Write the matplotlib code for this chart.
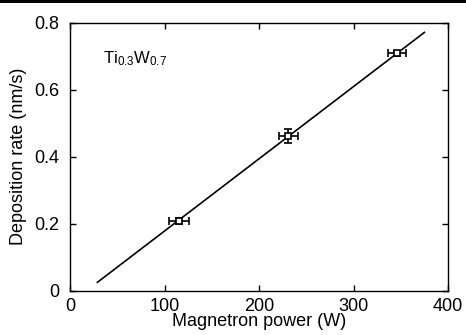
import numpy as np
import matplotlib
matplotlib.use("Agg")
import matplotlib.pyplot as plt
from matplotlib.patches import Rectangle
from matplotlib import rcParams

rcParams.update({
    "font.family": ["Liberation Sans", "DejaVu Sans"],
    "mathtext.fontset": "custom",
    "mathtext.rm": "Liberation Sans",
    "mathtext.it": "Liberation Sans",
    "font.size": 13,
    "axes.linewidth": 1.0,
})

# measured points
power = [115, 231, 346]
rate = [0.208, 0.462, 0.709]
power_err = [10.5, 10, 10]
rate_err = [0.008, 0.022, 0.008]

# linear fit end points
fit_power = [29, 375]
fit_rate = [0.025, 0.771]

fig = plt.figure(figsize=(4.66, 3.35), dpi=100)
ax = fig.add_axes([70 / 466, 1 - 290.7 / 335, 378 / 466, 268 / 335])

ax.plot(fit_power, fit_rate, color="black", lw=1.2, zorder=2)
ax.errorbar(power, rate, xerr=power_err, yerr=rate_err, fmt="s", ms=5,
            mfc="white", mec="black", mew=1.2, ecolor="black", elinewidth=1.2,
            capsize=3, capthick=1.2, zorder=3)

ax.set_xlim(0, 400)
ax.set_ylim(0, 0.8)
ax.set_xticks([0, 100, 200, 300, 400])
ax.set_xticklabels(["0", "100", "200", "300", "400"])
ax.set_yticks([0, 0.2, 0.4, 0.6, 0.8])
ax.set_yticklabels(["0", "0.2", "0.4", "0.6", "0.8"])
ax.tick_params(direction="in", top=True, right=True, length=4, width=1.0)
ax.tick_params(axis="x", pad=5)
ax.tick_params(axis="y", pad=8)

ax.set_xlabel("Magnetron power (W)", labelpad=-1)
ax.set_ylabel("Deposition rate (nm/s)", labelpad=5)

ax.text(0.087, 0.865, r"$\mathrm{Ti}_{0.3}\mathrm{W}_{0.7}$", transform=ax.transAxes,
        fontsize=12, ha="left", va="center")

# black strip along the top edge
fig.patches.append(Rectangle((0, 1 - 2.5 / 335), 1, 2.5 / 335, transform=fig.transFigure,
                             facecolor="black", edgecolor="none"))

fig.savefig("out.png", dpi=100)
